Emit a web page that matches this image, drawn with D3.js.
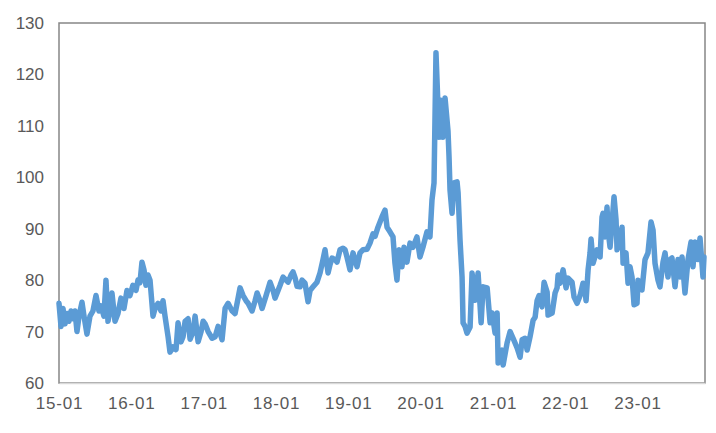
<!DOCTYPE html>
<html>
<head>
<meta charset="utf-8">
<script src="https://cdn.jsdelivr.net/npm/d3@7"></script>
<style>
  html, body { margin: 0; padding: 0; background: #fff; }
  svg { display: block; }
  text { font-family: "Liberation Sans", Arial, sans-serif; fill: #595959; }
</style>
</head>
<body>
<div id="chart"></div>
<script>
// Decimal-year time stamps of the series
const years = [
2015.000,2015.028,2015.055,2015.083,2015.111,2015.138,2015.166,2015.194,2015.221,2015.249,
2015.277,2015.318,2015.346,2015.387,2015.429,2015.470,2015.512,2015.553,2015.581,2015.622,
2015.650,2015.678,2015.705,2015.733,2015.775,2015.816,2015.858,2015.899,2015.941,2015.982,
2016.023,2016.065,2016.093,2016.120,2016.148,2016.176,2016.203,2016.231,2016.259,2016.300,
2016.328,2016.369,2016.411,2016.438,2016.466,2016.508,2016.535,2016.577,2016.618,2016.646,
2016.687,2016.715,2016.743,2016.784,2016.812,2016.853,2016.881,2016.923,2016.964,2016.992,
2017.019,2017.061,2017.116,2017.158,2017.199,2017.254,2017.296,2017.337,2017.393,2017.434,
2017.476,2017.503,2017.545,2017.586,2017.614,2017.669,2017.711,2017.739,2017.780,2017.808,
2017.863,2017.918,2017.960,2017.987,2018.029,2018.057,2018.098,2018.140,2018.167,2018.209,
2018.236,2018.264,2018.292,2018.333,2018.361,2018.402,2018.444,2018.472,2018.513,2018.568,
2018.610,2018.651,2018.679,2018.721,2018.748,2018.776,2018.817,2018.845,2018.886,2018.928,
2018.956,2018.983,2019.025,2019.066,2019.122,2019.163,2019.205,2019.260,2019.301,2019.343,
2019.371,2019.412,2019.467,2019.509,2019.537,2019.578,2019.620,2019.647,2019.675,2019.703,
2019.744,2019.772,2019.813,2019.855,2019.896,2019.951,2019.993,2020.034,2020.090,2020.131,
2020.159,2020.187,2020.214,2020.242,2020.256,2020.283,2020.311,2020.339,2020.380,2020.394,
2020.408,2020.436,2020.463,2020.505,2020.519,2020.546,2020.574,2020.588,2020.615,2020.643,
2020.685,2020.712,2020.754,2020.795,2020.837,2020.864,2020.920,2020.961,2020.989,2021.030,
2021.058,2021.072,2021.127,2021.141,2021.196,2021.238,2021.279,2021.335,2021.376,2021.404,
2021.445,2021.473,2021.514,2021.556,2021.584,2021.611,2021.639,2021.680,2021.708,2021.750,
2021.763,2021.819,2021.860,2021.888,2021.902,2021.929,2021.971,2022.012,2022.040,2022.095,
2022.123,2022.165,2022.206,2022.247,2022.275,2022.289,2022.317,2022.344,2022.358,2022.386,
2022.441,2022.483,2022.510,2022.524,2022.552,2022.579,2022.593,2022.621,2022.648,2022.676,
2022.704,2022.718,2022.759,2022.787,2022.801,2022.842,2022.870,2022.897,2022.925,2022.953,
2022.994,2023.008,2023.063,2023.105,2023.146,2023.188,2023.216,2023.243,2023.285,2023.312,
2023.354,2023.382,2023.423,2023.451,2023.478,2023.520,2023.561,2023.589,2023.617,2023.658,
2023.700,2023.741,2023.769,2023.796,2023.838,2023.866,2023.893,2023.907,2023.921
];
// Index values
const values = [
75.5,71,74.5,71.5,73.5,72,74,72.5,74,70,
73,75.7,73,69.5,73,74,77,74,75,73,
80,72,74,77.5,72,73.5,76.5,74.5,78,77,
79,78,80,79.5,83.5,82,79,81,80,73,
74.5,75.5,74,76,73,69,66,67,66.5,71.7,
68,69,72,72.5,68.5,70,73,68,70,72,
71.5,70,68.7,69,71,68.4,74.5,75.5,74,73.5,
76.5,78.5,77,76,75.5,74,76,77.5,76,74.5,
77,79.6,78,76.5,78,79,80.6,80,79.6,81,
81.6,80.5,78.8,78.7,80,79.4,75.8,78,78.7,79.6,
81.4,84,85.9,81.4,83,84.3,84,83.5,85.9,86.2,
85.9,84.5,82,85.3,82.6,85.3,85.9,86,87.2,89,
88.5,90.3,92.3,93.6,90.3,89.4,88.4,83.3,80,85.9,
82.6,86.4,83.5,87.2,86.4,88.4,84.5,86.4,89.4,88.4,
95.6,98.9,124.2,113.7,107.8,115,107.8,115.4,109,104,
97.5,93,98.9,99.1,97,87.8,80.6,71.7,71,69.7,
70.9,81.4,76.1,81.4,71.7,78.7,78.5,71.7,73.6,69.7,
73.6,63.9,66.4,63.5,67.8,70,68.7,66.8,65,68.4,
68.7,66.4,69,72.2,72.8,76,77,74.8,79.6,77.7,
73.2,73.6,77.5,78.5,81,79.4,82,78.5,80.4,79.6,
76.7,75.5,77,79.4,78,76,82,85.3,88,83.3,
85.9,84.5,92.3,93,88.4,94.2,89.7,86.4,91.1,96.2,
91.7,85.9,87.8,90.3,83.3,85.3,79.4,82.6,80.6,75.2,
75.5,80,78.1,84,85.3,91.3,89.7,83.3,80,78.7,
83.5,85.3,80.6,84,84.3,78.7,84,80.6,84.5,77.5,
84,87.4,82.6,87.4,84,88.2,83.3,80.6,84.5
];
const yTicks = [60, 70, 80, 90, 100, 110, 120, 130];
const xTickYears = [2015, 2016, 2017, 2018, 2019, 2020, 2021, 2022, 2023];

function toDate(y) {
  const yr = Math.floor(y);
  const start = new Date(yr, 0, 1).getTime();
  const end = new Date(yr + 1, 0, 1).getTime();
  return new Date(start + (y - yr) * (end - start));
}

const W = 716, H = 433;
const margin = { top: 23, right: 11, bottom: 50, left: 59 };
const iw = W - margin.left - margin.right;
const ih = H - margin.top - margin.bottom;

const data = years.map((y, i) => ({ date: toDate(y), value: values[i] }));

const svg = d3.select("#chart").append("svg")
  .attr("width", W).attr("height", H);

const g = svg.append("g").attr("transform", `translate(${margin.left},${margin.top})`);

const x = d3.scaleTime()
  .domain([toDate(2015.0), toDate(2023.935)])
  .range([0, iw]);
const y = d3.scaleLinear().domain([60, 130]).range([ih, 0]);

// plot frame
g.append("rect")
  .attr("x", 0).attr("y", 0).attr("width", iw).attr("height", ih)
  .attr("fill", "none").attr("stroke", "#868686").attr("stroke-width", 1.5);

// line
const line = d3.line().x(d => x(d.date)).y(d => y(d.value));
g.append("path").datum(data)
  .attr("d", line)
  .attr("fill", "none")
  .attr("stroke", "#5B9BD5")
  .attr("stroke-width", 5.5)
  .attr("stroke-linejoin", "round")
  .attr("stroke-linecap", "round");

// x axis
const xAxis = d3.axisBottom(x)
  .tickValues(xTickYears.map(yr => new Date(yr, 0, 1)))
  .tickFormat(d3.timeFormat("%y-%m"))
  .tickSize(0).tickPadding(14);
const gx = g.append("g").attr("transform", `translate(0,${ih})`).call(xAxis);
gx.select(".domain").attr("stroke", "#d9d9d9").attr("stroke-width", 1.5);
gx.selectAll("text")
  .style("font-family", '"Liberation Sans", Arial, sans-serif')
  .style("font-size", "17px").style("letter-spacing", "0.8px")
  .attr("fill", "#595959");

// y axis
const yAxis = d3.axisLeft(y).tickValues(yTicks).tickSize(0).tickPadding(15);
const gy = g.append("g").call(yAxis);
gy.select(".domain").remove();
gy.selectAll("text")
  .style("font-family", '"Liberation Sans", Arial, sans-serif')
  .style("font-size", "17px")
  .attr("fill", "#595959");
</script>
</body>
</html>
